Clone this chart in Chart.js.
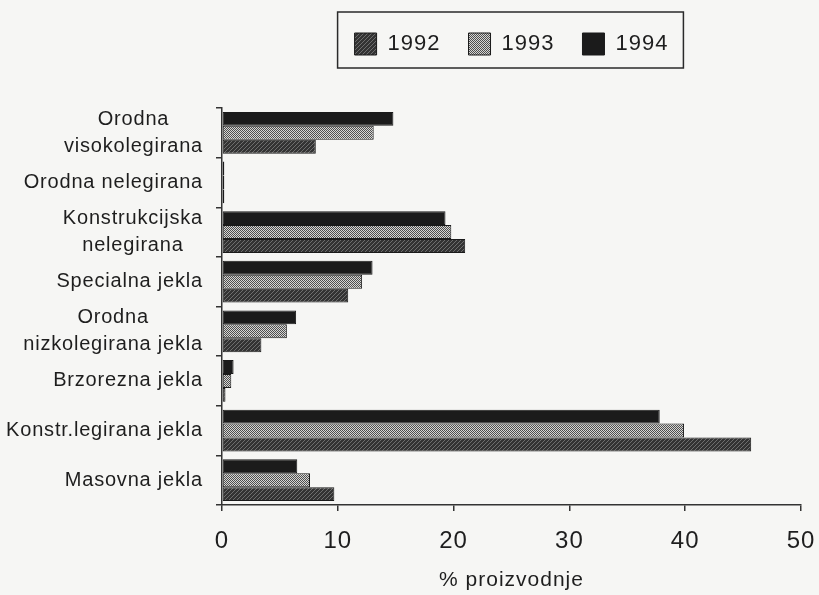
<!DOCTYPE html>
<html>
<head>
<meta charset="utf-8">
<script src="https://cdn.jsdelivr.net/npm/chart.js@4.4.1/dist/chart.umd.min.js"></script>
<style>
html, body { margin: 0; padding: 0; background: #f6f6f4; }
#wrap { width: 819px; height: 595px; }
</style>
</head>
<body>
<div id="wrap"><canvas id="myChart" width="819" height="595"></canvas></div>
<script>
// categories, top to bottom
var categories = [
    ['Orodna', 'visokolegirana'],
    'Orodna nelegirana',
    ['Konstrukcijska', 'nelegirana'],
    'Specialna jekla',
    ['Orodna', 'nizkolegirana jekla'],
    'Brzorezna jekla',
    'Konstr.legirana jekla',
    'Masovna jekla'
];
var years = ['1994', '1993', '1992'];
var values1994 = [14.8, 0.2, 19.3, 13.0, 6.4, 1.0, 37.8, 6.5];
var values1993 = [13.1, 0.2, 19.8, 12.1, 5.6, 0.8, 39.9, 7.6];
var values1992 = [8.1, 0.2, 21.0, 10.9, 3.4, 0.3, 45.7, 9.7];
var xTicks = [0, 10, 20, 30, 40, 50];
var xTitle = '% proizvodnje';

var FONT = "'Liberation Sans', Arial, sans-serif";

function makePattern(bg, fg, cells) {
    var c = document.createElement('canvas');
    c.width = 4; c.height = 4;
    var g = c.getContext('2d');
    g.fillStyle = bg;
    g.fillRect(0, 0, 4, 4);
    g.fillStyle = fg;
    cells.forEach(function(p) { g.fillRect(p[0], p[1], 1, 1); });
    return g.createPattern(c, 'repeat');
}

var ctx = document.getElementById('myChart').getContext('2d');
var fill1994 = '#1b1b1b';
var fill1993 = makePattern('#d6d6d4', '#4e4e4e', [[0,0],[2,0],[1,1],[3,1],[0,2],[2,2],[1,3],[3,3]]);
var fill1992 = makePattern('#333333', '#6e6e6e', [[0,0],[2,2],[1,3],[3,1]]);

var spacing = {
    id: 'spacing',
    beforeUpdate: function(c) { c.ctx.letterSpacing = '1px'; },
    beforeDraw: function(c) { c.ctx.letterSpacing = '1px'; }
};

var legendGap = {
    id: 'legendGap',
    beforeInit: function(chart) {
        var fit = chart.legend.fit;
        chart.legend.fit = function() {
            fit.bind(chart.legend)();
            this.height += 43;
        };
    }
};

var legendFrame = {
    id: 'legendFrame',
    afterDraw: function(chart) {
        var boxes = chart.legend.legendHitBoxes;
        if (!boxes || !boxes.length) return;
        var x0 = Math.min.apply(null, boxes.map(function(b) { return b.left; }));
        var x1 = Math.max.apply(null, boxes.map(function(b) { return b.left + b.width; }));
        var y0 = Math.min.apply(null, boxes.map(function(b) { return b.top; }));
        var y1 = Math.max.apply(null, boxes.map(function(b) { return b.top + b.height; }));
        var c = chart.ctx;
        c.save();
        c.strokeStyle = '#2a2a2a';
        c.lineWidth = 1.5;
        c.strokeRect(x0 - 17, y0 - 21, (x1 - x0) + 32, (y1 - y0) + 34);
        c.restore();
    }
};

// category labels: lines centred on each other, block right-aligned
var blockLabels = {
    id: 'blockLabels',
    afterDraw: function(chart) {
        var c = chart.ctx, ys = chart.scales.y;
        c.save();
        c.letterSpacing = '0.8px';
        c.font = '20px ' + FONT;
        c.fillStyle = '#1e1e1e';
        c.textAlign = 'center';
        c.textBaseline = 'middle';
        var right = chart.chartArea.left - 19;
        categories.forEach(function(lab, i) {
            var lines = Array.isArray(lab) ? lab : [lab];
            var w = Math.max.apply(null, lines.map(function(l) { return c.measureText(l).width; }));
            var cx = right - w / 2;
            var cy = ys.getPixelForValue(i);
            lines.forEach(function(l, j) {
                c.fillText(l, cx, cy + (j - (lines.length - 1) / 2) * 27);
            });
        });
        c.restore();
    }
};

var dataObj = {
    type: 'bar',
    data: {
        labels: categories,
        datasets: [
            { label: years[0], data: values1994, backgroundColor: fill1994 },
            { label: years[1], data: values1993, backgroundColor: fill1993 },
            { label: years[2], data: values1992, backgroundColor: fill1992 }
        ]
    },
    options: {
        indexAxis: 'y',
        responsive: false,
        animation: false,
        devicePixelRatio: 1,
        datasets: {
            bar: {
                borderColor: '#1a1a1a',
                borderWidth: 1,
                borderSkipped: false,
                categoryPercentage: 0.84,
                barPercentage: 1.0
            }
        },
        layout: { padding: { top: 5, left: 0, right: 18, bottom: 2 } },
        plugins: {
            tooltip: { enabled: false },
            legend: {
                position: 'top',
                fullSize: false,
                reverse: true,
                labels: {
                    boxWidth: 22,
                    boxHeight: 22,
                    padding: 28,
                    color: '#1e1e1e',
                    font: { family: FONT, size: 22 }
                }
            }
        },
        scales: {
            x: {
                min: 0,
                max: 50,
                afterBuildTicks: function(s) {
                    s.ticks = xTicks.map(function(v) { return { value: v }; });
                },
                afterFit: function(s) {
                    s.height = 88;
                    s.paddingLeft = 0;
                    s.paddingRight = 0;
                },
                border: { display: true, color: '#333', width: 1.5 },
                grid: { drawOnChartArea: false, drawTicks: true, tickLength: 6, color: '#333', lineWidth: 1.5 },
                ticks: { color: '#1e1e1e', padding: 16, font: { family: FONT, size: 24 } },
                title: {
                    display: true,
                    text: xTitle,
                    color: '#1e1e1e',
                    padding: { top: 0, bottom: 0 },
                    font: { family: FONT, size: 21 }
                }
            },
            y: {
                afterFit: function(s) { s.width = 222; },
                border: { display: true, color: '#333', width: 1.5 },
                grid: { drawOnChartArea: false, drawTicks: true, tickLength: 6, color: '#333', lineWidth: 1.5 },
                ticks: { display: false }
            }
        }
    },
    plugins: [spacing, legendGap, legendFrame, blockLabels]
};

window.myBar = new Chart(ctx, dataObj);
</script>
</body>
</html>
